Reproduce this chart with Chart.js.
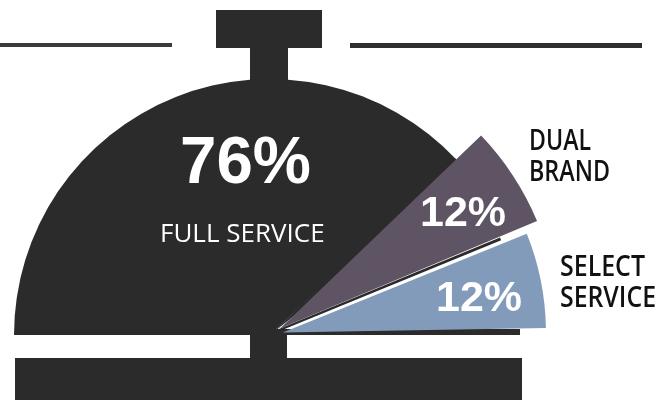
<!DOCTYPE html>
<html lang="en">
<head>
    <meta charset="UTF-8">
    <title>Hotel brand mix</title>
    <script src="https://cdn.jsdelivr.net/npm/chart.js"></script>
    <style>
        html, body { margin: 0; background: #fff; }
        canvas { display: block; }
    </style>
</head>
<body>
    <canvas id="bellChart" width="668" height="400"></canvas>

    <script>
        const categories = ['FULL SERVICE', 'DUAL BRAND', 'SELECT SERVICE'];
        const shares = [76, 12, 12];
        const sliceColors = ['#2c2b2c', '#5e5464', '#829bbb'];

        const BELL = '#2c2b2c';
        // how far each slice is pushed out of the dome, how long it is,
        // and a small turn (radians) so the wedges sit slightly askew
        const sliceOffsets = [0, 48, 52];
        const sliceRadii = [256, 271, 255];
        const sliceTurns = [0, -0.015, -0.012];

        // handle, stems, base and the rule either side of the handle
        const bellParts = {
            id: 'bellParts',
            beforeDatasetsDraw(chart) {
                const ctx = chart.ctx;
                const arcs = chart.getDatasetMeta(0).data;
                const cx = arcs[0].x, cy = arcs[0].y;
                ctx.save();
                ctx.fillStyle = BELL;
                ctx.fillRect(216, 10, 106, 38);
                ctx.fillRect(250, 48, 38, 40);
                ctx.fillRect(250, 335, 37, 25);
                ctx.fillRect(15, 358, 507, 42);
                ctx.fillRect(cx, cy - 6, 250, 6);

                // dome runs on a little under the dual brand slice
                ctx.beginPath();
                ctx.moveTo(cx, cy);
                ctx.arc(cx, cy, sliceRadii[0], arcs[0].endAngle - 0.01, arcs[0].endAngle + 0.08);
                ctx.closePath();
                ctx.fill();

                // dark sliver below the dual brand slice
                const a = arcs[1].endAngle;
                const mid = (arcs[1].startAngle + a) / 2;
                const ax = cx + 12 * Math.cos(mid), ay = cy + 12 * Math.sin(mid);
                const ex = ax + 238 * Math.cos(a), ey = ay + 238 * Math.sin(a);
                ctx.beginPath();
                ctx.moveTo(cx, cy);
                ctx.lineTo(ax, ay);
                ctx.lineTo(ex, ey);
                ctx.lineTo(ex - 3 * Math.sin(a), ey + 3 * Math.cos(a));
                ctx.closePath();
                ctx.fill();

                ctx.fillStyle = '#3a3a3a';
                ctx.fillRect(0, 43, 172, 4);
                ctx.fillStyle = '#2f2f2f';
                ctx.fillRect(350, 43, 292, 5);
                ctx.restore();
            },
            afterDatasetsDraw(chart) {
                const ctx = chart.ctx;
                ctx.save();
                ctx.textBaseline = 'alphabetic';
                ctx.fillStyle = '#fff';
                ctx.font = "bold 66px 'Liberation Sans'";
                ctx.fillText(shares[0] + '%', 180, 183, 131);
                ctx.font = "bold 43px 'Liberation Sans'";
                ctx.fillText(shares[1] + '%', 420, 226, 86);
                ctx.fillText(shares[2] + '%', 436, 311, 86);
                ctx.font = "26px 'Open Sans'";
                ctx.fillText(categories[0], 160, 242, 167);

                ctx.fillStyle = '#111';
                ctx.font = "600 28px 'Open Sans'";
                const dual = categories[1].split(' ');
                const select = categories[2].split(' ');
                ctx.fillText(dual[0], 529, 150, 62);
                ctx.fillText(dual[1], 529, 181, 81);
                ctx.fillText(select[0], 560, 276, 85);
                ctx.fillText(select[1], 560, 307, 96);
                ctx.restore();
            }
        };

        // slices get their own length and turn, the pie controller only knows one radius
        const sliceShapes = {
            id: 'sliceShapes',
            afterDatasetsUpdate(chart) {
                chart.getDatasetMeta(0).data.forEach((arc, i) => {
                    arc.outerRadius = sliceRadii[i];
                    arc.startAngle += sliceTurns[i];
                    arc.endAngle += sliceTurns[i];
                });
            }
        };

        new Chart(document.getElementById('bellChart'), {
            type: 'pie',
            data: {
                labels: categories,
                datasets: [{
                    data: shares,
                    backgroundColor: sliceColors,
                    borderWidth: 0,
                    offset: sliceOffsets
                }]
            },
            options: {
                responsive: false,
                animation: false,
                rotation: -90,
                circumference: 180,
                layout: { padding: { left: 0, right: 128, top: 101, bottom: 39 } },
                plugins: {
                    legend: { display: false },
                    tooltip: { enabled: false }
                }
            },
            plugins: [bellParts, sliceShapes]
        });
    </script>
</body>
</html>
